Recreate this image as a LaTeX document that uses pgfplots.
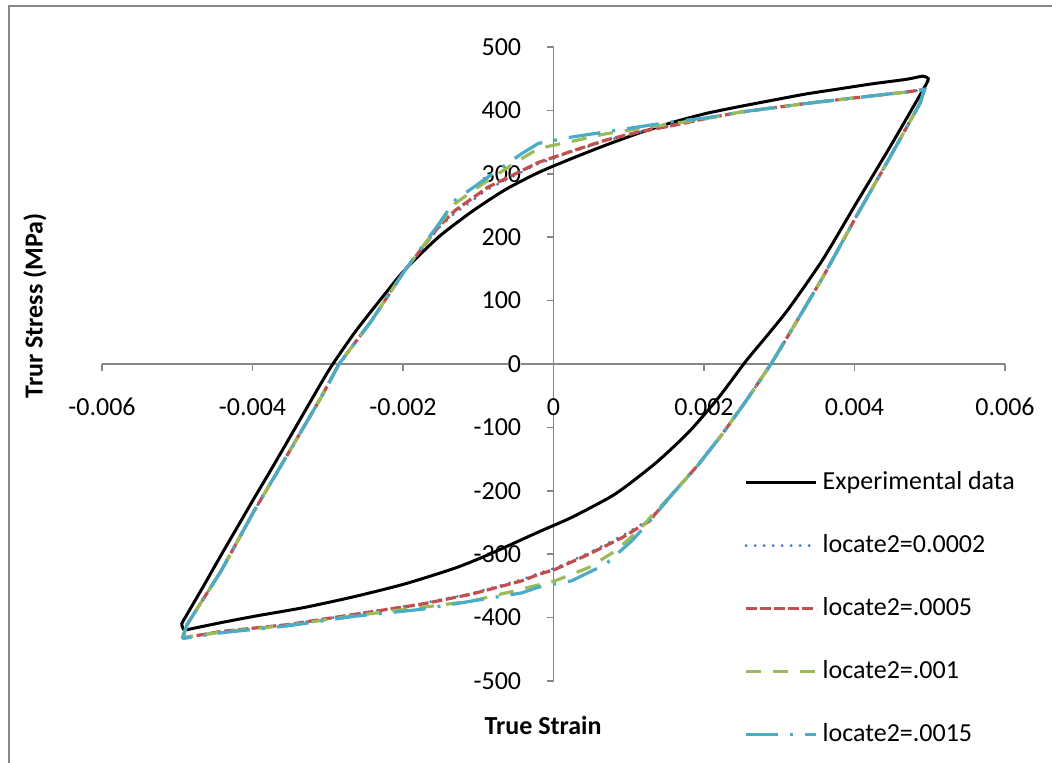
\documentclass[border=0pt]{standalone}
\usepackage{pgfplots}
\pgfplotsset{compat=1.18}
\usepackage{fontspec}
\setmainfont{Carlito}

\definecolor{axisgray}{RGB}{134,134,134}
\definecolor{xlblue}{RGB}{74,126,187}
\definecolor{xlred}{RGB}{192,80,77}
\definecolor{xlgreen}{RGB}{155,187,89}
\definecolor{xlcyan}{RGB}{75,172,198}

\begin{document}
\begin{tikzpicture}
\useasboundingbox (0pt,0pt) rectangle (526pt,-381.5pt);
% chart frame
\draw[axisgray, line width=1pt] (4.25pt,-3.25pt) rectangle (540pt,-400pt);
\begin{axis}[
  at={(51pt,-340.5pt)}, anchor=south west,
  scale only axis, width=451.5pt, height=317pt,
  xmin=-0.006, xmax=0.006, ymin=-500, ymax=500,
  axis lines*=middle,
  axis line style={axisgray, line width=0.8pt},
  hide obscured x ticks=false, hide obscured y ticks=false,
  tick align=outside,
  major tick length=3.5pt,
  tick style={axisgray, line width=0.8pt},
  xtick={-0.006,-0.004,-0.002,0,0.002,0.004,0.006},
  xticklabels={-0.006,-0.004,-0.002,0,0.002,0.004,0.006},
  ytick={-500,-400,-300,-200,-100,0,100,200,300,400,500},
  yticklabels={-500,-400,-300,-200,-100,0,100,200,300,400,500},
  scaled x ticks=false,
  font=\fontsize{13}{15}\selectfont,
  xticklabel style={inner sep=0pt, anchor=north, yshift=-13.5pt, fill=white},
  yticklabel style={inner sep=0pt, anchor=east, xshift=-12.5pt, fill=white},
  xlabel={\textbf{True Strain}},
  ylabel={\textbf{Trur Stress (MPa)}},
  xlabel style={at={(rel axis cs:0.4884,0)}, anchor=center, yshift=-22pt},
  ylabel style={at={(rel axis cs:-0.0742,0.5915)}, anchor=center},
  legend style={draw=none, fill=none, at={(axis cs:0.002533,-385.8)}, anchor=west,
    inner sep=0pt, row sep=20pt, column sep=2.5pt,
    nodes={inner sep=0pt, text height=9pt, text depth=2.5pt},
    font=\fontsize{13}{15}\selectfont},
  legend cell align=left,
  legend image code/.code={\draw[#1] (0pt,0pt) -- (35pt,0pt);},
]

% experimental hysteresis loop
\addplot[black, line width=1.5pt, smooth, tension=0.4] coordinates {
(-0.00491,-420) (-0.00494,-410) (-0.00487,-395) (-0.00465,-350) (-0.00442,-302)
(-0.00420,-257) (-0.00398,-212) (-0.00375,-166) (-0.00353,-121) (-0.00318,-49)
(-0.00296,-5) (-0.00264,50) (-0.00233,97) (-0.00198,148) (-0.00153,200)
(-0.00109,240) (-0.00064,275) (-0.00020,302) (0.00024,324) (0.00069,345)
(0.00113,364) (0.00158,381) (0.00202,395) (0.00247,406) (0.00291,416)
(0.00336,426) (0.00380,434) (0.00424,442) (0.00469,449) (0.00491,454)
(0.00498,450) (0.00496,443) (0.00487,424) (0.00447,342) (0.00402,253)
(0.00358,165) (0.00313,88) (0.00284,45) (0.00256,5) (0.00220,-52)
(0.00180,-107) (0.00136,-156) (0.00082,-205) (0.00024,-242) (-0.00020,-265)
(-0.00087,-301) (-0.00131,-322) (-0.00198,-347) (-0.00265,-367)
(-0.00331,-384) (-0.00398,-398) (-0.00442,-408) (-0.00491,-420)
};
\addlegendentry{Experimental data}

% locate2 = 0.0002
\addplot[xlblue, line width=1.6pt, line cap=round, dash pattern=on 0pt off 4.5pt] coordinates {
(-0.00493,-432) (-0.00487,-411) (-0.00442,-327) (-0.00398,-232) (-0.00353,-142)
(-0.00309,-53) (-0.00285,0) (-0.00242,68) (-0.00198,147) (-0.00153,214)
(-0.00131,238) (-0.00087,276) (-0.00042,303) (-0.00020,316) (0.00020,333)
(0.00069,352) (0.00113,365) (0.00158,376) (0.00202,387) (0.00247,397)
(0.00291,404) (0.00336,411) (0.00380,417) (0.00424,423) (0.00469,429)
(0.00493,433) (0.00487,411) (0.00447,326) (0.00402,232) (0.00358,137)
(0.00313,47) (0.00289,0) (0.00256,-58) (0.00224,-111) (0.00193,-158)
(0.00158,-205) (0.00127,-246) (0.00091,-271) (0.00047,-298) (0.00002,-322)
(-0.00020,-330) (-0.00042,-340) (-0.00109,-362) (-0.00176,-378) (-0.00265,-395)
(-0.00353,-411) (-0.00442,-422) (-0.00493,-432)
};
\addlegendentry{locate2=0.0002}

% locate2 = .0005
\addplot[xlred, line width=1.6pt, dash pattern=on 5.2pt off 1.8pt] coordinates {
(-0.00493,-432) (-0.00487,-411) (-0.00442,-327) (-0.00398,-232) (-0.00353,-142)
(-0.00309,-53) (-0.00285,0) (-0.00242,68) (-0.00198,147) (-0.00153,216)
(-0.00131,242) (-0.00087,279) (-0.00042,305) (-0.00020,318) (0.00020,334)
(0.00069,353) (0.00113,366) (0.00158,376) (0.00202,387) (0.00247,397)
(0.00291,404) (0.00336,411) (0.00380,417) (0.00424,423) (0.00469,429)
(0.00493,433) (0.00487,411) (0.00447,326) (0.00402,232) (0.00358,137)
(0.00313,47) (0.00289,0) (0.00256,-58) (0.00224,-111) (0.00193,-158)
(0.00158,-205) (0.00127,-248) (0.00091,-274) (0.00047,-300) (0.00002,-324)
(-0.00020,-332) (-0.00042,-342) (-0.00109,-363) (-0.00176,-379) (-0.00265,-395)
(-0.00353,-411) (-0.00442,-422) (-0.00493,-432)
};
\addlegendentry{locate2=.0005}

% locate2 = .001
\addplot[xlgreen, line width=1.6pt, dash pattern=on 7.5pt off 6pt] coordinates {
(-0.00493,-432) (-0.00487,-411) (-0.00442,-327) (-0.00398,-232) (-0.00353,-142)
(-0.00309,-53) (-0.00285,0) (-0.00242,68) (-0.00198,147) (-0.00153,218)
(-0.00131,253) (-0.00087,290) (-0.00042,324) (-0.00020,340) (0.00020,350)
(0.00069,363) (0.00113,371) (0.00158,379) (0.00202,387) (0.00247,397)
(0.00291,404) (0.00336,411) (0.00380,417) (0.00424,423) (0.00469,429)
(0.00493,433) (0.00487,411) (0.00447,326) (0.00402,232) (0.00358,137)
(0.00313,47) (0.00289,0) (0.00256,-58) (0.00224,-111) (0.00193,-158)
(0.00158,-205) (0.00130,-240) (0.00113,-263) (0.00082,-295) (0.00047,-321)
(0.00002,-342) (-0.00042,-355) (-0.00109,-374) (-0.00176,-384) (-0.00265,-397)
(-0.00353,-412) (-0.00442,-423) (-0.00493,-432)
};
\addlegendentry{locate2=.001}

% locate2 = .0015
\addplot[xlcyan, line width=1.6pt, dash pattern=on 16pt off 6pt on 1.5pt off 6pt] coordinates {
(-0.00493,-433) (-0.00487,-411) (-0.00442,-327) (-0.00398,-232) (-0.00353,-142)
(-0.00309,-53) (-0.00285,0) (-0.00242,68) (-0.00198,147) (-0.00153,220)
(-0.00131,258) (-0.00087,295) (-0.00042,332) (-0.00020,348) (0.00024,358)
(0.00069,366) (0.00113,374) (0.00158,382) (0.00202,388) (0.00247,397)
(0.00291,404) (0.00336,411) (0.00380,417) (0.00424,423) (0.00469,429)
(0.00493,433) (0.00487,411) (0.00447,326) (0.00402,232) (0.00358,137)
(0.00313,47) (0.00289,0) (0.00256,-58) (0.00224,-111) (0.00193,-158)
(0.00158,-205) (0.00130,-245) (0.00104,-279) (0.00069,-316) (0.00024,-342)
(-0.00020,-352) (-0.00042,-361) (-0.00109,-374) (-0.00176,-387) (-0.00265,-398)
(-0.00353,-413) (-0.00442,-424) (-0.00493,-433)
};
\addlegendentry{locate2=.0015}

\end{axis}
\end{tikzpicture}
\end{document}
